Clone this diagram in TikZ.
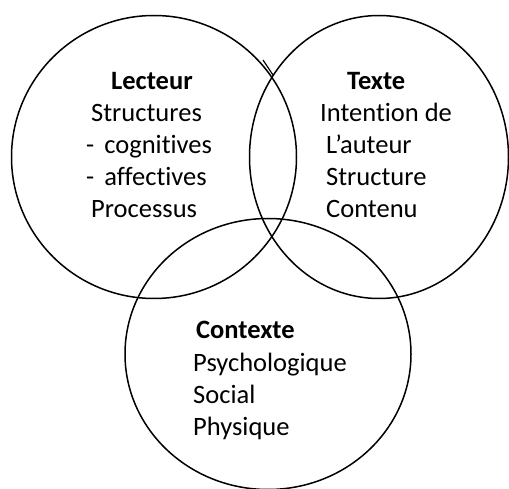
\documentclass[tikz,border=0pt]{standalone}
\usepackage{fontspec}
\setmainfont{Carlito}[Ligatures=NoCommon, RawFeature=-liga]
\usetikzlibrary{shapes.geometric}
\begin{document}
\begin{tikzpicture}[x=1pt,y=-1pt,
  ring/.style={ellipse, draw=black, line width=1.5pt, inner sep=0pt},
  txt/.style={anchor=base west, inner sep=0pt, font=\fontsize{26.5}{32}\selectfont},
  head/.style={txt, font=\fontsize{26.5}{32}\selectfont\bfseries}]
\useasboundingbox (0,0) rectangle (509,489);
\node[ring, minimum width=285pt, minimum height=283pt] (lect) at (154,157) {};
\node[ring, minimum width=259pt, minimum height=283pt] (texte) at (379,157) {};
\node[ring, minimum width=286pt, minimum height=271pt] (ctx) at (268,354) {};
\coordinate (a1) at (263,60);
\coordinate (a2) at (273,75);
\draw[line width=1.2pt] (a1) -- (a2);
% Lecteur
\node[head] (l0) at (111,90) {Lecteur};
\node[txt] (l1) at (91,122) {Structures};
\node[txt] (l2) at (86,154) {-\hspace{10pt}cognitives};
\node[txt] (l3) at (86,186) {-\hspace{10pt}affectives};
\node[txt] (l4) at (91,218) {Processus};
% Texte
\node[head] (t0) at (347,90) {Texte};
\node[txt] (t1) at (320,122) {Intention de};
\node[txt] (t2) at (326,154) {L’auteur};
\node[txt] (t3) at (326,186) {Structure};
\node[txt] (t4) at (326,218) {Contenu};
% Contexte
\node[head] (c0) at (196,338) {Contexte};
\node[txt] (c1) at (193,371) {Psychologique};
\node[txt] (c2) at (193,403) {Social};
\node[txt] (c3) at (193,435) {Physique};
\end{tikzpicture}
\end{document}
